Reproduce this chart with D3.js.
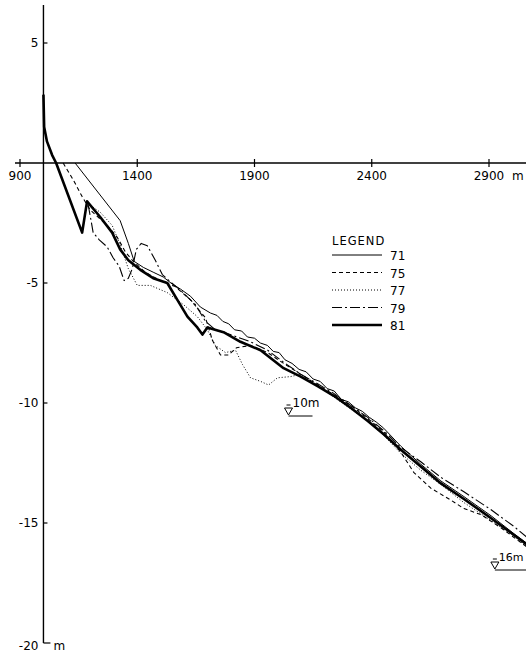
<!DOCTYPE html>
<html lang="en">
<head>
<meta charset="UTF-8">
<title>Beach profiles 71-81</title>
<style>
  body { margin: 0; background: #fff; }
  svg text { font-family: "DejaVu Sans", sans-serif; fill: #000; }
</style>
</head>
<body>
<svg width="526" height="653"></svg>
<script src="https://d3js.org/d3.v7.min.js"></script>
<script>

// distance (m), elevation (m)
var years = ["71", "75", "77", "79", "81"];
var xTicks = [900, 1400, 1900, 2400, 2900];
var yTicks = [5, -5, -10, -15, -20];

var profile71 = [[1135,0],[1327,-2.4],[1362,-3.35],[1387,-4.1],[1426,-4.35],[1468,-4.55],[1511,-4.75],
  [1550,-5.05],[1584,-5.25],[1627,-5.55],[1669,-6.0],[1712,-6.25],[1740,-6.35],[1765,-6.6],[1790,-6.7],
  [1815,-6.95],[1845,-7.0],[1870,-7.25],[1900,-7.3],[1925,-7.5],[1955,-7.6],[1980,-7.85],[2005,-7.9],
  [2030,-8.2],[2060,-8.35],[2090,-8.6],[2120,-8.7],[2150,-9.0],[2180,-9.1],[2210,-9.4],[2240,-9.5],
  [2270,-9.85],[2300,-9.95],[2330,-10.2],[2360,-10.35],[2390,-10.6],[2420,-10.8],[2451,-11.05],
  [2524,-11.8],[2609,-12.55],[2695,-13.25],[2793,-13.9],[2909,-14.7],[3007,-15.45],[3062,-15.85]];

var profile75 = [[1084,0],[1127,-0.7],[1165,-1.4],[1199,-1.95],[1272,-2.6],[1315,-3.1],[1349,-3.7],
  [1383,-4.1],[1434,-4.55],[1498,-4.9],[1562,-5.15],[1627,-5.7],[1691,-6.45],[1721,-7.4],[1755,-8.0],
  [1789,-8.0],[1823,-7.7],[1883,-7.6],[1956,-7.9],[2024,-8.35],[2097,-8.8],[2169,-9.25],[2238,-9.65],
  [2310,-10.1],[2383,-10.65],[2451,-11.2],[2524,-12.05],[2580,-12.9],[2652,-13.55],[2738,-14.05],
  [2793,-14.4],[2866,-14.65],[2951,-15.2],[3062,-16.0]];

var profile77 = [[1191,-1.7],[1242,-2.05],[1293,-2.6],[1327,-3.4],[1362,-4.4],[1400,-5.1],[1456,-5.1],
  [1528,-5.4],[1597,-5.9],[1656,-6.4],[1699,-6.95],[1733,-7.6],[1776,-7.9],[1819,-7.8],[1849,-8.4],
  [1883,-8.95],[1926,-9.1],[1960,-9.25],[1998,-8.95],[2054,-8.9],[2097,-8.8],[2169,-9.25],[2238,-9.75],
  [2310,-10.25],[2383,-10.75],[2451,-11.35],[2524,-12.1],[2609,-12.8],[2695,-13.4],[2793,-14.15],
  [2909,-14.9],[3007,-15.55],[3062,-16.0]];

var profile79 = [[1191,-1.75],[1203,-2.4],[1212,-2.9],[1238,-3.2],[1272,-3.5],[1297,-3.95],[1323,-4.3],
  [1344,-4.9],[1362,-4.8],[1379,-4.4],[1396,-3.6],[1417,-3.35],[1443,-3.45],[1477,-4.05],[1507,-4.65],
  [1541,-4.95],[1584,-5.3],[1648,-5.9],[1691,-6.6],[1733,-6.95],[1797,-7.15],[1883,-7.45],[1956,-7.8],
  [2024,-8.3],[2097,-8.8],[2169,-9.2],[2238,-9.6],[2310,-10.1],[2383,-10.6],[2451,-11.15],[2524,-11.85],
  [2609,-12.45],[2695,-13.1],[2793,-13.7],[2909,-14.45],[3007,-15.15],[3062,-15.6]];

var profile81 = [[1000,2.85],[1003,1.5],[1015,0.9],[1037,0.33],[1054,0],[1165,-2.9],[1186,-1.6],
  [1242,-2.25],[1293,-2.9],[1327,-3.6],[1362,-4.05],[1413,-4.45],[1468,-4.8],[1528,-5.0],[1571,-5.7],
  [1614,-6.4],[1656,-6.85],[1678,-7.15],[1699,-6.85],[1768,-7.05],[1840,-7.45],[1926,-7.8],[2024,-8.55],
  [2097,-8.9],[2169,-9.3],[2238,-9.7],[2310,-10.2],[2383,-10.75],[2451,-11.3],[2524,-11.95],[2609,-12.65],
  [2695,-13.35],[2793,-14.0],[2909,-14.8],[3007,-15.5],[3062,-15.9]];

var profiles = [profile71, profile75, profile77, profile79, profile81];

// line styles per survey year
var dashes = ["none", "4,3", "1,2", "10,3,2,3", "none"];
var widths = [1, 1.1, 1, 1.1, 2.6];

var svg = d3.select("svg");

var x = d3.scaleLinear().domain([900, 2900]).range([20, 489]);
var y = d3.scaleLinear().domain([-20, 5]).range([643, 43]);
var axisX = x(1000);

var line = d3.line()
    .x(function(d) { return x(d[0]); })
    .y(function(d) { return y(d[1]); });

// horizontal axis at 0 m
svg.append("line")
    .attr("x1", 15).attr("x2", 526)
    .attr("y1", y(0)).attr("y2", y(0))
    .attr("stroke", "#000").attr("stroke-width", 1.4);

svg.selectAll(".xtick")
  .data(xTicks)
  .enter().append("line")
    .attr("x1", function(d) { return x(d); })
    .attr("x2", function(d) { return x(d); })
    .attr("y1", y(0) - 4).attr("y2", y(0) + 4)
    .attr("stroke", "#000").attr("stroke-width", 1.2);

svg.selectAll(".xlabel")
  .data(xTicks)
  .enter().append("text")
    .attr("x", function(d) { return x(d); })
    .attr("y", y(0) + 17)
    .attr("text-anchor", "middle")
    .attr("font-size", 12)
    .text(function(d) { return d; });

svg.append("text")
    .attr("x", x(2900) + 23).attr("y", y(0) + 17)
    .attr("font-size", 12)
    .text("m");

// vertical axis at 1000 m
svg.append("line")
    .attr("x1", axisX).attr("x2", axisX)
    .attr("y1", 5).attr("y2", y(-20))
    .attr("stroke", "#000").attr("stroke-width", 1.4);

svg.selectAll(".ytick")
  .data(yTicks)
  .enter().append("line")
    .attr("x1", axisX)
    .attr("x2", function(d) { return d === -20 ? axisX + 7 : axisX + 4; })
    .attr("y1", function(d) { return y(d); })
    .attr("y2", function(d) { return y(d); })
    .attr("stroke", "#000").attr("stroke-width", 1.2);

svg.selectAll(".ylabel")
  .data(yTicks)
  .enter().append("text")
    .attr("x", axisX - 5)
    .attr("y", function(d) { return y(d) + (d === -20 ? 7 : 4); })
    .attr("text-anchor", "end")
    .attr("font-size", 12)
    .text(function(d) { return d; });

svg.append("text")
    .attr("x", axisX + 10).attr("y", y(-20) + 7)
    .attr("font-size", 12)
    .text("m");

// profiles
svg.selectAll(".profile")
  .data(profiles)
  .enter().append("path")
    .attr("d", line)
    .attr("fill", "none")
    .attr("stroke", "#000")
    .attr("stroke-width", function(d, i) { return widths[i]; })
    .attr("stroke-dasharray", function(d, i) { return dashes[i]; })
    .attr("stroke-linejoin", "round");

// legend
var legend = svg.append("g").attr("transform", "translate(332,0)");

legend.append("text")
    .attr("x", 0).attr("y", 245)
    .attr("font-size", 11.5)
    .attr("letter-spacing", 1)
    .text("LEGEND");

var rows = legend.selectAll(".row")
  .data(years)
  .enter().append("g")
    .attr("transform", function(d, i) { return "translate(0," + (255 + i * 17.5) + ")"; });

rows.append("line")
    .attr("x1", 0).attr("x2", 50)
    .attr("stroke", "#000")
    .attr("stroke-width", function(d, i) { return widths[i]; })
    .attr("stroke-dasharray", function(d, i) { return dashes[i]; });

rows.append("text")
    .attr("x", 58).attr("y", 5)
    .attr("font-size", 12)
    .text(function(d) { return d; });

// water level marks
function waterMark(dist, elev, label, dy, lineLen, size) {
  var cx = x(dist), cy = y(elev) + dy;
  var g = svg.append("g");
  g.append("path")
      .attr("d", "M" + (cx - 4) + "," + cy + "L" + (cx + 4) + "," + cy + "L" + cx + "," + (cy + 7) + "Z")
      .attr("fill", "none").attr("stroke", "#000").attr("stroke-width", 1);
  g.append("line")
      .attr("x1", cx - 2).attr("x2", cx + 2)
      .attr("y1", cy - 3).attr("y2", cy - 3)
      .attr("stroke", "#000").attr("stroke-width", 1);
  g.append("line")
      .attr("x1", cx).attr("x2", cx + lineLen)
      .attr("y1", cy + 8).attr("y2", cy + 8)
      .attr("stroke", "#000").attr("stroke-width", 1);
  g.append("text")
      .attr("x", cx + 4).attr("y", cy - 1)
      .attr("font-size", size)
      .text(label);
}

waterMark(2045, -10, "10m", 5, 24, 12);
waterMark(2925, -16, "16m", 15, 40, 11);

</script>
</body>
</html>
